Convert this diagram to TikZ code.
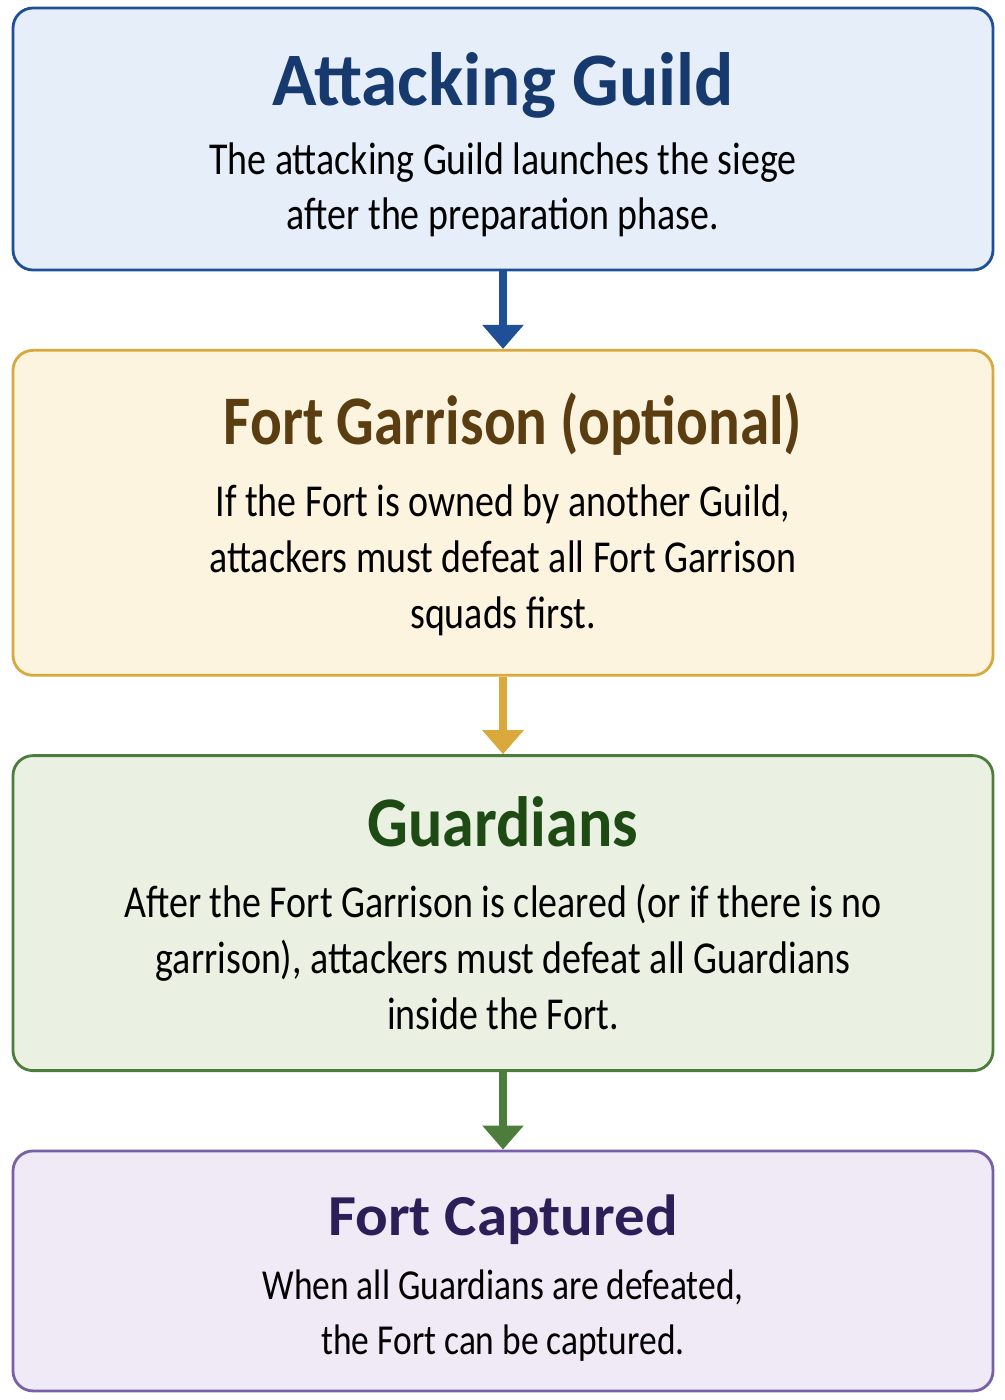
\documentclass[tikz,border=0pt]{standalone}
\usepackage{fontspec}
\setmainfont{Carlito}
\newfontfamily\bodyfont[FakeStretch=0.83]{Carlito}
\usetikzlibrary{positioning,arrows.meta}

\definecolor{bluefill}{HTML}{E6EEF9}
\definecolor{blueline}{HTML}{1E4F97}
\definecolor{bluetitle}{HTML}{173A6E}
\definecolor{goldfill}{HTML}{FDF4DF}
\definecolor{goldline}{HTML}{D8AA3E}
\definecolor{goldtitle}{HTML}{5A3E12}
\definecolor{greenfill}{HTML}{EAF1E3}
\definecolor{greenline}{HTML}{4C7D3A}
\definecolor{greentitle}{HTML}{1E4A14}
\definecolor{purplefill}{HTML}{EFEAF6}
\definecolor{purpleline}{HTML}{7860A8}
\definecolor{purpletitle}{HTML}{2C1E57}

% size, stretch, text
\newcommand{\stagetitle}[3]{\fontsize{#1}{#1}\selectfont\addfontfeatures{FakeStretch=#2}#3}

\tikzset{
  stagebox/.style={rounded corners=0.4cm, line width=1.6pt, draw=#1line, fill=#1fill,
    minimum width=19.6cm, inner sep=0pt},
  titletext/.style={text=#1title, anchor=base, inner sep=0pt, font=\bfseries},
  bodytext/.style={anchor=base, align=flush center, text width=18cm, inner sep=0pt,
    font=\bodyfont\fontsize{26}{31.8}\selectfont},
  flowarrow/.style={draw=#1, line width=4pt, -{Triangle[width=0.8cm,length=0.48cm]}}
}

\begin{document}
\begin{tikzpicture}[node distance=1.55cm]
  \useasboundingbox (0,0) rectangle (20.1,-28);

  \node[stagebox=blue, minimum height=5.24cm] (guild) at (10.06,-2.78) {};
  \node[stagebox=gold, minimum height=6.5cm, below=of guild] (garrison) {};
  \node[stagebox=green, minimum height=6.3cm, below=of garrison] (guardians) {};
  \node[stagebox=purple, minimum height=4.8cm, below=of guardians] (captured) {};

  \node[titletext=blue] (guild-title) at ([yshift=-1.98cm]guild.north)
    {\stagetitle{43}{0.97}{Attacking Guild}};
  \node[bodytext] (guild-text) at ([yshift=-3.35cm]guild.north)
    {The attacking Guild launches the siege\\ after the preparation phase.};

  \node[titletext=gold] (garrison-title) at ([xshift=0.2cm,yshift=-1.92cm]garrison.north)
    {\stagetitle{39.6}{0.85}{Fort Garrison (optional)}};
  \node[bodytext] (garrison-text) at ([yshift=-3.36cm]garrison.north)
    {If the Fort is owned by another Guild,\\ attackers must defeat all Fort Garrison\\ squads first.};

  \node[titletext=green] (guardians-title) at ([yshift=-1.84cm]guardians.north)
    {\stagetitle{40.5}{0.9}{Guardians}};
  \node[bodytext] (guardians-text) at ([yshift=-3.27cm]guardians.north)
    {After the Fort Garrison is cleared (or if there is no\\ garrison), attackers must defeat all Guardians\\ inside the Fort.};

  \node[titletext=purple] (captured-title) at ([yshift=-1.72cm]captured.north)
    {\stagetitle{33}{1.05}{Fort Captured}};
  \node[bodytext, font=\bodyfont\fontsize{24.3}{31.5}\selectfont] (captured-text) at ([yshift=-2.99cm]captured.north)
    {When all Guardians are defeated,\\ the Fort can be captured.};

  \draw[flowarrow=blueline] (guild) -- (garrison);
  \draw[flowarrow=goldline!95!orange] (garrison) -- (guardians);
  \draw[flowarrow=greenline] (guardians) -- (captured);
\end{tikzpicture}
\end{document}
